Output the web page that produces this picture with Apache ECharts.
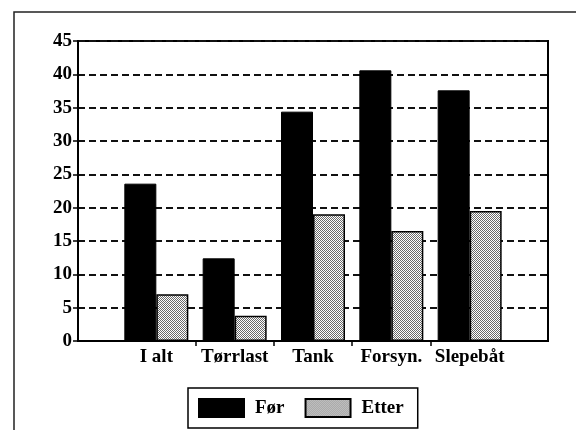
<!DOCTYPE html>
<html>
<head>
<meta charset="utf-8">
<script src="https://cdn.jsdelivr.net/npm/echarts@6/dist/echarts.min.js"></script>
<style>
  html, body { margin: 0; padding: 0; background: #fff; }
  #chart { width: 576px; height: 430px; }
</style>
</head>
<body>
<div id="chart"></div>
<script>
// Categories and the two series (before / after)
const categories = ['I alt', 'Tørrlast', 'Tank', 'Forsyn.', 'Slepebåt'];
const forValues = [23.6, 12.4, 34.4, 40.6, 37.6];
const etterValues = [7.0, 3.8, 19.0, 16.5, 19.5];
const seriesNames = ['Før', 'Etter'];
const yTicks = [0, 5, 10, 15, 20, 25, 30, 35, 40, 45];

// Group positions on the horizontal value axis: 1..n, with half-way tick marks between groups
const positions = categories.map((_, i) => i + 1);
const separators = positions.slice(0, -1).map(p => p + 0.5);

// Fine checker fill used for the "Etter" bars
function ditherPattern() {
  const c = document.createElement('canvas');
  c.width = 2; c.height = 2;
  const g = c.getContext('2d');
  g.fillStyle = '#ffffff';
  g.fillRect(0, 0, 2, 2);
  g.fillStyle = '#6a6a6a';
  g.fillRect(0, 0, 1, 1);
  g.fillRect(1, 1, 1, 1);
  return { image: c, repeat: 'repeat' };
}

const serif = 'Liberation Serif';
const chart = echarts.init(document.getElementById('chart'), null, { renderer: 'canvas' });

chart.setOption({
  animation: false,
  backgroundColor: '#ffffff',
  graphic: [{
    type: 'rect',
    shape: { x: 14, y: 12, width: 600, height: 440 },
    style: { fill: 'none', stroke: '#222', lineWidth: 1.5 },
    silent: true,
    z: -10
  }],
  grid: {
    left: 78, right: 28, top: 41, bottom: 89,
    show: true, borderColor: '#000', borderWidth: 2, backgroundColor: 'transparent'
  },
  legend: {
    left: 188, top: 388,
    orient: 'horizontal',
    data: seriesNames,
    icon: 'rect',
    itemWidth: 45, itemHeight: 18, itemGap: 20,
    padding: [10, 14, 10, 10],
    borderColor: '#000', borderWidth: 1.5,
    textStyle: { fontFamily: serif, fontSize: 19, fontWeight: 'bold', color: '#000', padding: [0, 0, 0, 6] }
  },
  xAxis: {
    type: 'value',
    min: 0, max: positions.length + 1,
    splitLine: { show: false },
    axisLine: { show: true, onZero: false, lineStyle: { color: '#000', width: 2 } },
    axisTick: { show: true, length: 5, customValues: separators, lineStyle: { color: '#000', width: 1.5 } },
    axisLabel: {
      customValues: positions,
      formatter: v => categories[Math.round(v) - 1] || '',
      fontFamily: serif, fontSize: 19, fontWeight: 'bold', color: '#000', margin: 7
    }
  },
  yAxis: {
    type: 'value',
    min: yTicks[0], max: yTicks[yTicks.length - 1], interval: 5,
    axisLine: { show: true, lineStyle: { color: '#000', width: 2 } },
    axisTick: { show: true, length: 5, lineStyle: { color: '#000', width: 1.5 } },
    axisLabel: { fontFamily: serif, fontSize: 19, fontWeight: 'bold', color: '#000', margin: 6 },
    splitLine: { show: true, lineStyle: { color: '#111', width: 2, type: [7, 4] } }
  },
  series: [
    {
      name: seriesNames[0],
      type: 'bar',
      data: positions.map((p, i) => [p, forValues[i]]),
      barWidth: 32,
      barGap: '0%',
      itemStyle: { color: '#000', borderColor: '#000', borderWidth: 1 }
    },
    {
      name: seriesNames[1],
      type: 'bar',
      data: positions.map((p, i) => [p, etterValues[i]]),
      barWidth: 32,
      barGap: '0%',
      itemStyle: { color: ditherPattern(), borderColor: '#000', borderWidth: 1.5 }
    }
  ]
});
</script>
</body>
</html>
